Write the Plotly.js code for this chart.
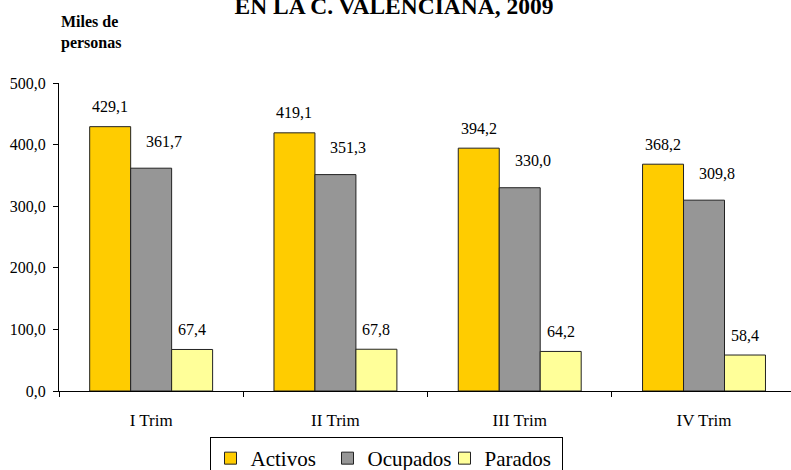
<!DOCTYPE html>
<html>
<head>
<meta charset="utf-8">
<script src="https://cdn.plot.ly/plotly-3.0.1.min.js"></script>
<style>html,body{margin:0;padding:0;background:#fff;}#chart{width:791px;height:470px;}</style>
</head>
<body>
<div id="chart"></div>
<script>
const categories = ["I Trim", "II Trim", "III Trim", "IV Trim"];
const activos = [429.1, 419.1, 394.2, 368.2];
const ocupados = [361.7, 351.3, 330.0, 309.8];
const parados = [67.4, 67.8, 64.2, 58.4];
const seriesNames = ["Activos", "Ocupados", "Parados"];
const seriesColors = ["#FFCC00", "#969696", "#FFFF99"];
const yTicks = [0, 100, 200, 300, 400, 500];

const fmt = v => v.toFixed(1).replace('.', ',');
const serif = "Liberation Serif";

const allSeries = [activos, ocupados, parados];
const traces = allSeries.map((vals, i) => ({
  type: 'bar',
  name: seriesNames[i],
  x: categories,
  y: vals,
  marker: {color: seriesColors[i], line: {color: '#222', width: 1}},
  hoverinfo: 'none'
}));

const xShifts = [-41, 13, 41];
const yShifts = [20, 27, 20];
const annotations = [];
allSeries.forEach((vals, s) => {
  vals.forEach((v, i) => {
    annotations.push({
      x: categories[i], y: v, xref: 'x', yref: 'y',
      text: fmt(v), showarrow: false,
      xshift: xShifts[s], yshift: yShifts[s],
      xanchor: 'center', yanchor: 'middle',
      font: {family: serif, size: 16, color: '#000'}
    });
  });
});
annotations.push({
  xref: 'paper', yref: 'paper', x: 0, y: 1.095,
  xanchor: 'left', yanchor: 'bottom', align: 'left', showarrow: false,
  text: '<b>Miles de<br>personas</b>',
  font: {family: serif, size: 16, color: '#000'}
});

const layout = {
  width: 791, height: 470,
  margin: {l: 59, r: 0, t: 83, b: 79},
  paper_bgcolor: '#fff', plot_bgcolor: '#fff',
  title: {
    text: '<b>EN LA C. VALENCIANA, 2009</b>',
    x: 394/791, xanchor: 'center', xref: 'container',
    y: 1 - 6/470, yanchor: 'middle', yref: 'container',
    font: {family: serif, size: 23.5, color: '#000'}
  },
  barmode: 'group',
  bargap: 0.333,
  bargroupgap: 0,
  xaxis: {
    type: 'category',
    range: [-0.5, 3.472],
    showline: true, linecolor: '#000', linewidth: 1,
    ticks: 'outside', tickson: 'boundaries', ticklen: 5, tickcolor: '#000',
    ticklabelstandoff: 14,
    tickfont: {family: serif, size: 17, color: '#000'},
    showgrid: false, zeroline: false, fixedrange: true
  },
  yaxis: {
    range: [0, 500],
    tickvals: yTicks,
    ticktext: yTicks.map(fmt),
    showline: true, linecolor: '#000', linewidth: 1,
    ticks: 'outside', ticklen: 5, tickcolor: '#000',
    ticklabelstandoff: 4,
    tickfont: {family: serif, size: 16, color: '#000'},
    showgrid: false, zeroline: false, fixedrange: true
  },
  showlegend: true,
  legend: {
    orientation: 'h',
    xref: 'container', yref: 'container',
    x: 386/791, xanchor: 'center',
    y: 1 - 437/470, yanchor: 'top',
    bordercolor: '#000', borderwidth: 1,
    bgcolor: '#fff',
    font: {family: serif, size: 21, color: '#000'},
    itemwidth: 30, tracegroupgap: 0,
    entrywidth: 72, entrywidthmode: 'pixels'
  },
  annotations: annotations
};

Plotly.newPlot('chart', traces, layout, {displayModeBar: false, staticPlot: true});
</script>
</body>
</html>
